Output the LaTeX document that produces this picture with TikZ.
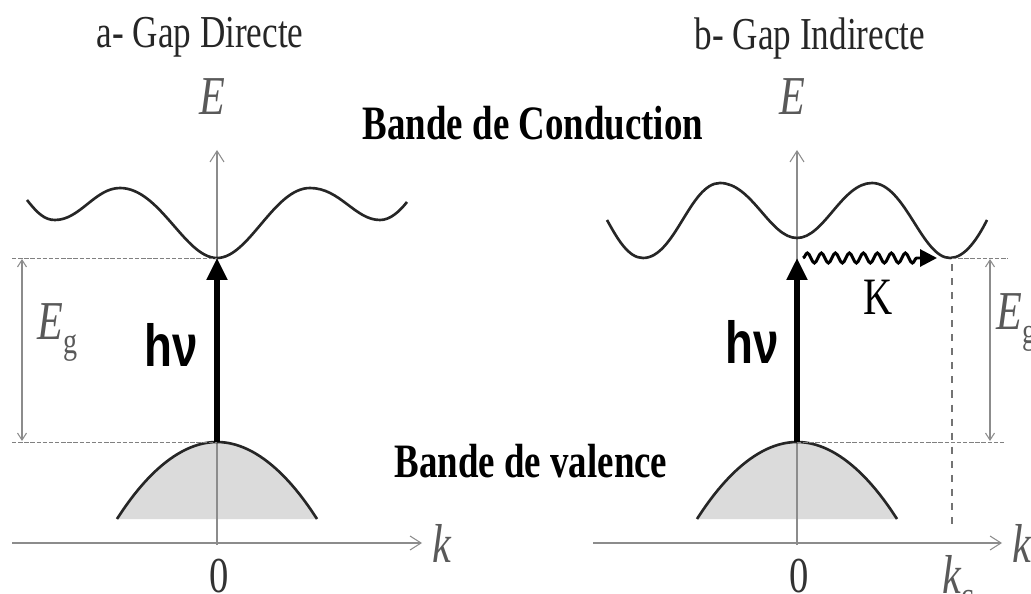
\documentclass[tikz,border=0pt]{standalone}
\usepackage{graphicx}
\usepackage{fontspec}
\setmainfont{Liberation Serif}
\setsansfont{Liberation Sans}
\usetikzlibrary{arrows.meta,decorations.pathmorphing}
\tikzset{
  axis/.style={-{Straight Barb[length=2.2mm,width=2.8mm]}, black!45, line width=0.6pt},
  band/.style={line width=1.5pt, black!85},
  vfill/.style={fill=black!14},
  lvl/.style={black!50, line width=0.55pt, dash pattern=on 2.5pt off 1pt},
  kline/.style={black!55, line width=1.3pt, dash pattern=on 4pt off 4pt},
  gaparr/.style={{Straight Barb[length=1.4mm,width=1.8mm]}-{Straight Barb[length=1.4mm,width=1.8mm]}, black!45, line width=0.6pt},
  photon/.style={-{Triangle[length=4.4mm,width=4mm]}, line width=3pt},
  phonon/.style={-{Triangle[length=3.4mm,width=3.4mm]}, line width=1.7pt, decorate,
    decoration={snake, segment length=0.28cm, amplitude=0.1cm, post length=3mm}},
  ttl/.style={font=\fontsize{20}{24}\selectfont, text=black!85, inner sep=0pt},
  bnd/.style={font=\bfseries\fontsize{21}{25}\selectfont, inner sep=0pt},
  sym/.style={font=\itshape\fontsize{24}{30}\selectfont, text=black!65, inner sep=0pt},
  num/.style={font=\fontsize{22}{28}\selectfont, text=black!80, inner sep=0pt},
  hnu/.style={font=\sffamily\bfseries\fontsize{26}{30}\selectfont, inner sep=0pt},
}
\newcommand{\sub}[1]{\raisebox{-6pt}{\fontsize{16}{16}\selectfont\upshape #1}}
\newcommand{\tall}[1]{\scalebox{1}[1.3]{#1}}

\begin{document}
\begin{tikzpicture}[x=0.02cm, y=-0.02cm]
\useasboundingbox (0,0) rectangle (1031,594);
% --- a- gap directe ---
\coordinate (Oa) at (217,545);
\coordinate (Ta) at (217,150);
\coordinate (La) at (12,543);
\coordinate (Ra) at (422,543);
\coordinate (CBa) at (217,258);
\coordinate (VBa) at (217,442);
\node[ttl, anchor=base] (ta) at (200,48) {\tall{a- Gap Directe}};
\fill[vfill] (117,519) parabola bend (217,442) (317,519) -- cycle;
\draw[axis] (La) -- (Ra);
\draw[axis] (Oa) -- (Ta);
\node[sym] (Ea) at (212,97) {\tall{E}};
\node[sym, anchor=west] (ka) at (432,543) {\tall{k}};
\node[num, anchor=north] (za) at (219,559) {\tall{0}};
\draw[band] (27,200) .. controls (38,214) and (45,220) .. (55,220)
  .. controls (80,220) and (95,188) .. (120,188)
  .. controls (160,188) and (185,258) .. (217,258)
  .. controls (249,258) and (274,188) .. (310,188)
  .. controls (340,188) and (355,220) .. (380,220)
  .. controls (390,220) and (399,212) .. (407,202);
\draw[band] (117,519) parabola bend (217,442) (317,519);
\draw[lvl] (12,258) -- (CBa);
\draw[lvl] (12,442) -- (VBa);
\draw[gaparr] (22,259) -- (22,441);
\node[sym, anchor=base west] (Ega) at (37,340) {\tall{E\sub{g}}};
\draw[photon] (VBa) -- (CBa);
\node[hnu, anchor=base east] (hnua) at (198,367) {\tall{hν}};
% --- b- gap indirecte ---
\coordinate (Ob) at (797,545);
\coordinate (Tb) at (797,150);
\coordinate (Lb) at (593,543);
\coordinate (Rb) at (1002,543);
\coordinate (CBb) at (797,258);
\coordinate (VBb) at (797,442);
\coordinate (Pb) at (803,258);
\coordinate (Qb) at (937,258);
\coordinate (Mb) at (952,258);
\node[ttl, anchor=base] (tb) at (810,50) {\tall{b- Gap Indirecte}};
\fill[vfill] (697,519) parabola bend (797,442) (897,519) -- cycle;
\draw[axis] (Lb) -- (Rb);
\draw[axis] (Ob) -- (Tb);
\node[sym] (Eb) at (792,97) {\tall{E}};
\node[sym, anchor=west] (kb) at (1012,543) {\tall{k}};
\node[num, anchor=north] (zb) at (799,559) {\tall{0}};
\node[sym, anchor=north] (kc) at (958,555) {\tall{k\sub{c}}};
\draw[band] (607,220) .. controls (617,238) and (628,258) .. (643,258)
  .. controls (675,258) and (690,183) .. (720,183)
  .. controls (752,183) and (770,238) .. (797,238)
  .. controls (824,238) and (842,183) .. (872,183)
  .. controls (905,183) and (922,258) .. (950,258)
  .. controls (965,258) and (978,238) .. (987,220);
\draw[band] (697,519) parabola bend (797,442) (897,519);
\draw[kline] (Mb) ++(0,6) -- (952,530);
\draw[lvl] (Mb) -- (1008,258);
\draw[lvl] (VBb) -- (1005,442);
\draw[gaparr] (990,259) -- (990,441);
\node[sym, anchor=base west] (Egb) at (996,330) {\tall{E\sub{g}}};
\draw[photon] (VBb) -- (CBb);
\node[hnu, anchor=base east] (hnub) at (779,364) {\tall{hν}};
\draw[phonon] (Pb) -- (Qb);
\node[font=\fontsize{23}{26}\selectfont, inner sep=0pt, anchor=base] (K) at (878,315) {\tall{K}};
% --- bandes ---
\node[bnd, anchor=base] (cond) at (533,140) {\tall{Bande de Conduction}};
\node[bnd, anchor=base] (val) at (531,477) {\tall{Bande de valence}};
\end{tikzpicture}
\end{document}
